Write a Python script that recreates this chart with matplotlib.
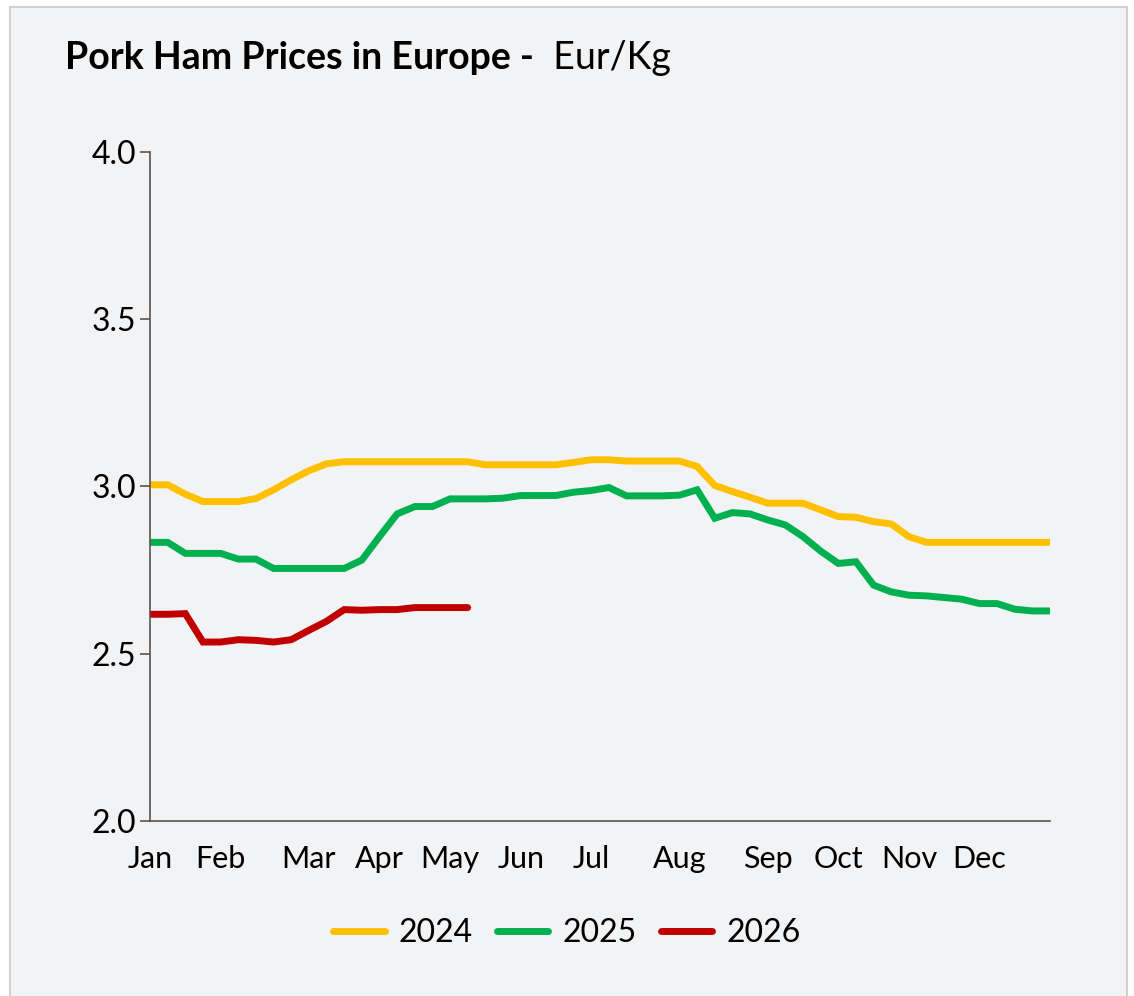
import matplotlib.pyplot as plt
from matplotlib.patches import Rectangle

plt.rcParams["font.family"] = ["Lato", "DejaVu Sans"]

# weekly prices, Eur/Kg
prices_2024 = [3.005, 3.005, 2.977, 2.955, 2.955, 2.955, 2.964, 2.990, 3.020, 3.047,
               3.068, 3.074, 3.074, 3.074, 3.074, 3.074, 3.074, 3.074, 3.074, 3.065,
               3.065, 3.065, 3.065, 3.065, 3.072, 3.080, 3.080, 3.076, 3.076, 3.076,
               3.076, 3.060, 3.003, 2.985, 2.968, 2.950, 2.950, 2.950, 2.930, 2.910,
               2.908, 2.895, 2.888, 2.850, 2.833, 2.833, 2.833, 2.833, 2.833, 2.833,
               2.833, 2.833]
prices_2025 = [2.833, 2.833, 2.800, 2.800, 2.800, 2.783, 2.783, 2.755, 2.755, 2.755,
               2.755, 2.755, 2.780, 2.850, 2.918, 2.940, 2.940, 2.963, 2.963, 2.963,
               2.965, 2.973, 2.973, 2.973, 2.983, 2.988, 2.997, 2.972, 2.972, 2.972,
               2.974, 2.990, 2.905, 2.922, 2.918, 2.900, 2.885, 2.850, 2.807, 2.770,
               2.775, 2.705, 2.685, 2.675, 2.673, 2.668, 2.663, 2.650, 2.650, 2.633,
               2.628, 2.628]
prices_2026 = [2.618, 2.618, 2.620, 2.535, 2.535, 2.542, 2.540, 2.535, 2.542, 2.570,
               2.597, 2.632, 2.630, 2.632, 2.632, 2.638, 2.638, 2.638, 2.638]

month_labels = ["Jan", "Feb", "Mar", "Apr", "May", "Jun", "Jul", "Aug", "Sep",
                "Oct", "Nov", "Dec"]
month_weeks = [0, 4, 9, 13, 17, 21, 25, 30, 35, 39, 43, 47]

series = [("2024", prices_2024, "#FFC000"),
          ("2025", prices_2025, "#00B050"),
          ("2026", prices_2026, "#C00000")]

bg = "#F2F3F5"
axis_col = "#5E5049"

fig = plt.figure(figsize=(11.34, 9.96), dpi=100, facecolor="white")
fig.patches.append(Rectangle((0.009, -0.01), 0.985, 1.003, transform=fig.transFigure,
                             facecolor=bg, edgecolor="#D0D0D0", linewidth=1.5,
                             zorder=-10))
ax = fig.add_axes([0.1323, 0.1757, 0.7937, 0.6717])
ax.set_facecolor(bg)

for name, vals, col in series:
    ax.plot(range(len(vals)), vals, color=col, linewidth=5, label=name,
            solid_capstyle="round", solid_joinstyle="miter")

ax.set_xlim(0, 51)
ax.set_ylim(2.0, 4.0)
ax.set_yticks([2.0, 2.5, 3.0, 3.5, 4.0])
ax.set_yticklabels(["2.0", "2.5", "3.0", "3.5", "4.0"])
ax.set_xticks(month_weeks)
ax.set_xticklabels(month_labels)

for s in ["top", "right"]:
    ax.spines[s].set_visible(False)
for s in ["left", "bottom"]:
    ax.spines[s].set_color(axis_col)
    ax.spines[s].set_linewidth(1.2)

ax.tick_params(axis="y", length=7, width=1.2, color=axis_col, labelsize=23, pad=3)
ax.tick_params(axis="x", length=0, labelsize=22, pad=17)

# title: bold part + regular part
t1 = fig.text(0.057, 0.942, "Pork Ham Prices in Europe -", fontsize=27,
              fontweight="bold", va="center", ha="left")
ax.annotate("  Eur/Kg", xy=(1, 0.5), xycoords=t1, fontsize=27, va="center", ha="left",
            annotation_clip=False)

leg = fig.legend(loc="center", bbox_to_anchor=(0.5, 0.063), ncol=3, frameon=False,
                 fontsize=23, handlelength=1.6, columnspacing=0.75, handletextpad=0.45)
for h in leg.get_lines():
    h.set_linewidth(5)
    h.set_solid_capstyle("round")

fig.savefig("out.png", dpi=100, facecolor="white")
